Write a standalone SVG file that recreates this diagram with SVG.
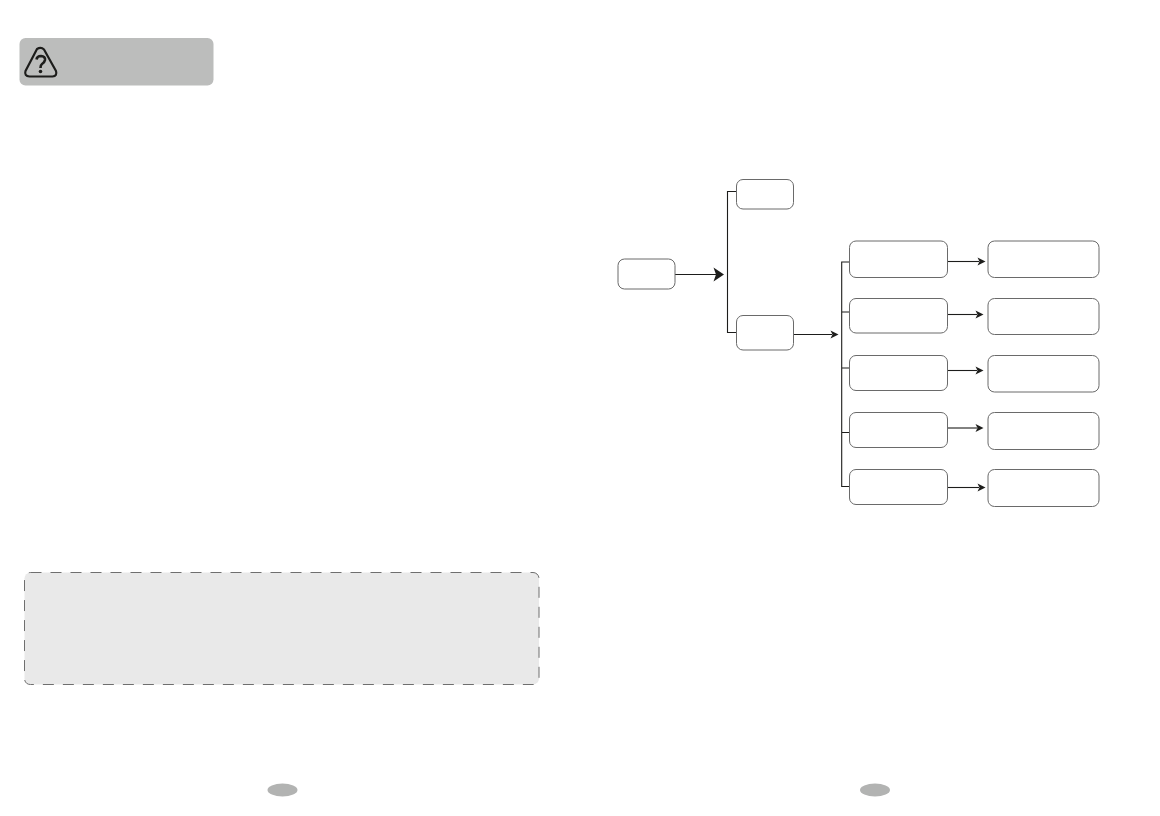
<svg xmlns="http://www.w3.org/2000/svg" width="1160" height="816" viewBox="0 0 1160 816">
<style>
.box{fill:#fff;stroke:#6a6a6a;stroke-width:1}
.wire{fill:none;stroke:#1d1d1b;stroke-width:1.1}
.head{fill:#1d1d1b;stroke:none}
.pg{fill:#b2b3b2}
</style>
<defs>
<path id="ah" class="head" d="M-8 -4L0 0L-8 4L-6 0Z"/>
<path id="ahb" class="head" d="M-10.500 -7L0 0L-10.500 7L-8 0Z"/>
</defs>
<rect width="1160" height="816" fill="#fff"/>
<g id="warning">
<rect x="19.500" y="38" width="194" height="47.500" rx="6" fill="#bcbdbc"/>
<path d="M37 49Q41 46.500 44 49.500L56 71Q57.500 76 52.500 76.500H29.500Q24 76 25.500 71Z" fill="none" stroke="#1d1d1b" stroke-width="2.200" stroke-linejoin="round"/>
<path d="M36.500 59.500Q37 56 41 56Q45.500 56.500 45 60Q44.500 62.500 42 64Q40.500 65 40.500 68" fill="none" stroke="#1d1d1b" stroke-width="2.600"/>
<circle cx="40.500" cy="71.500" r="1.800" fill="#1d1d1b"/>
</g>
<g id="connectors">
<path class="wire" d="M736.500 191.500H727.500V332.500H736.500"/>
<path class="wire" d="M675 274.500H716"/><use href="#ahb" x="724" y="274.500"/>
<path class="wire" d="M793.500 334.500H832"/><use href="#ah" x="838.500" y="334.500"/>
<path class="wire" d="M849.500 262H841.700V486.500H849.500M841.700 312H849.500M841.700 368H849.500M841.700 432.500H849.500"/>
<path class="wire" d="M947.500 261.500H979"/><use href="#ah" x="985.500" y="261.500"/>
<path class="wire" d="M947.500 314.500H977"/><use href="#ah" x="983.500" y="314.500"/>
<path class="wire" d="M947.500 370.500H977"/><use href="#ah" x="983.500" y="370.500"/>
<path class="wire" d="M947.500 428H977"/><use href="#ah" x="983.500" y="428"/>
<path class="wire" d="M947.500 487.500H979"/><use href="#ah" x="985.500" y="487.500"/>
</g>
<g id="root"><rect class="box" x="618" y="259" width="57" height="30" rx="6.500"/></g>
<g id="top"><rect class="box" x="736.500" y="179.500" width="57" height="29.500" rx="6.500"/></g>
<g id="mid"><rect class="box" x="736.500" y="315.500" width="57" height="34.500" rx="6.500"/></g>
<g id="left1"><rect class="box" x="849.500" y="241" width="98" height="36.500" rx="6.500"/></g>
<g id="left2"><rect class="box" x="849.500" y="298.500" width="98" height="34.500" rx="6.500"/></g>
<g id="left3"><rect class="box" x="849.500" y="355.500" width="98" height="35" rx="6.500"/></g>
<g id="left4"><rect class="box" x="849.500" y="412.500" width="98" height="35" rx="6.500"/></g>
<g id="left5"><rect class="box" x="849.500" y="469.500" width="98" height="35" rx="6.500"/></g>
<g id="right1"><rect class="box" x="988" y="241" width="111" height="36.500" rx="6.500"/></g>
<g id="right2"><rect class="box" x="988" y="298.500" width="111" height="36" rx="6.500"/></g>
<g id="right3"><rect class="box" x="988" y="355.500" width="111" height="36.500" rx="6.500"/></g>
<g id="right4"><rect class="box" x="988" y="412.500" width="111" height="37" rx="6.500"/></g>
<g id="right5"><rect class="box" x="988" y="469.500" width="111" height="37" rx="6.500"/></g>
<g id="note"><rect x="24.500" y="572.500" width="514.500" height="112" rx="6" fill="#e9e9e9" stroke="#6f6f6f" stroke-width="1" stroke-dasharray="11 9"/></g>
<g id="pages">
<ellipse class="pg" cx="282.500" cy="790" rx="15" ry="6.500"/>
<ellipse class="pg" cx="875" cy="790" rx="15" ry="6.500"/>
</g>
</svg>
